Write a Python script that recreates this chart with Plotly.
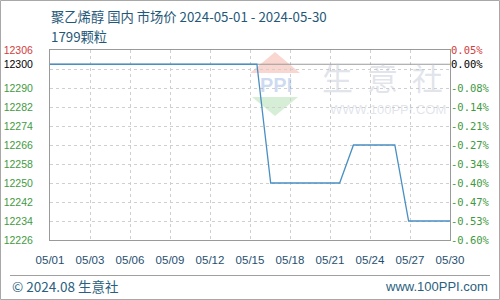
import pandas as pd
import plotly.graph_objects as go

# ---- data ----
dates = pd.date_range("2024-05-01", "2024-05-30", freq="D").strftime("%Y-%m-%d").tolist()
prices = [12300] * 16 + [12250] * 6 + [12266] * 4 + [12234] * 4

y_min, y_max = 12226, 12306
left_tickvals = [12226, 12234, 12242, 12250, 12258, 12266, 12274, 12282, 12290, 12300, 12306]
right_ticktext = ["-0.60%", "-0.53%", "-0.47%", "-0.40%", "-0.34%", "-0.27%", "-0.21%",
                  "-0.14%", "-0.08%", "0.00%", "0.05%"]
grid_vals = [12234, 12242, 12250, 12258, 12266, 12274, 12282, 12290, 12298]
n_xticks = 11

title_text = "聚乙烯醇 国内 市场价 2024-05-01 - 2024-05-30"
subtitle_text = "1799颗粒"
footer_left = "© 2024.08 生意社"
footer_right = "www.100PPI.com"

# ---- derived ----
GREEN, RED, BLACK = "#3f9a3f", "#d04040", "#000000"
base = prices[0]

def color_for(v):
    if v == y_max:
        return RED
    if v == base:
        return BLACK
    return GREEN

left_ticktext = [f"<span style='color:{color_for(v)}'>{v}</span>" for v in left_tickvals]
right_ticktext_c = [f"<span style='color:{color_for(v)}'>{t}</span>" for v, t in zip(left_tickvals, right_ticktext)]

start = pd.Timestamp(dates[0])
end = pd.Timestamp(dates[-1])
span = end - start
xt = [start + span * i / (n_xticks - 1) for i in range(n_xticks)]
xtickvals = [t.strftime("%Y-%m-%d %H:%M:%S") for t in xt]
xticktext = [t.floor("D").strftime("%m/%d") for t in xt]

fig = go.Figure()
# baseline (first value) reference
fig.add_trace(go.Scatter(x=[dates[0], dates[-1]], y=[base, base], mode="lines",
                         line=dict(color="#9a9a9a", width=1), hoverinfo="skip", showlegend=False))
fig.add_trace(go.Scatter(x=dates, y=prices, mode="lines",
                         line=dict(color="#4a8fc2", width=1.3), showlegend=False))
# invisible traces to anchor extra axes
fig.add_trace(go.Scatter(x=[dates[0]], y=[base], yaxis="y2", mode="markers",
                         marker=dict(opacity=0), hoverinfo="skip", showlegend=False))
fig.add_trace(go.Scatter(x=[dates[0]], y=[base], yaxis="y3", mode="markers",
                         marker=dict(opacity=0), hoverinfo="skip", showlegend=False))

axis_font = dict(family="Liberation Sans, Arial, sans-serif", size=10.5)

fig.update_layout(
    width=500, height=300,
    margin=dict(l=50, r=50, t=50, b=60, autoexpand=False),
    paper_bgcolor="white", plot_bgcolor="white",
    xaxis=dict(
        type="date", range=[dates[0], dates[-1]], automargin=False,
        tickmode="array", tickvals=xtickvals, ticktext=xticktext,
        showgrid=True, gridcolor="#cfcfcf", griddash="dot", gridwidth=1,
        ticks="outside", ticklen=9, tickcolor="rgba(0,0,0,0)",
        tickfont=dict(family="Liberation Sans, Arial, sans-serif", size=11.5, color="#1f4f6f"),
        showline=True, linecolor="#9a9a9a", linewidth=1, mirror=True,
        zeroline=False, fixedrange=True,
    ),
    yaxis=dict(
        range=[y_min, y_max], tickmode="array", tickvals=left_tickvals, ticktext=left_ticktext,
        showgrid=False, zeroline=False, automargin=False,
        ticks="outside", ticklen=14, tickcolor="rgba(0,0,0,0)",
        tickfont=axis_font,
        showline=True, linecolor="#9a9a9a", linewidth=1, mirror=True,
    ),
    yaxis2=dict(
        range=[y_min, y_max], overlaying="y", side="right", automargin=False,
        tickmode="array", tickvals=left_tickvals, ticktext=right_ticktext_c,
        showgrid=False, zeroline=False, ticks="", ticklen=0,
        tickfont=dict(family="DejaVu Sans Mono, monospace", size=10.5),
        showline=False,
    ),
    yaxis3=dict(
        range=[y_min, y_max], overlaying="y", side="left", automargin=False,
        tickmode="array", tickvals=grid_vals, showticklabels=False,
        showgrid=True, gridcolor="#cfcfcf", griddash="dot", gridwidth=1,
        zeroline=False, showline=False, ticks="",
    ),
)

def px2paper(px, py):
    return (px - 50) / 400, (240 - py) / 190

ann_font = "Noto Sans CJK SC, sans-serif"
annotations = []
x0, y0 = px2paper(50, 16)
annotations.append(dict(text=title_text, x=x0, y=y0, xref="paper", yref="paper",
                        xanchor="left", yanchor="middle", showarrow=False, borderpad=0,
                        font=dict(family=ann_font, size=13.3, color="#1f5878")))
x0, y0 = px2paper(50, 36)
annotations.append(dict(text=subtitle_text, x=x0, y=y0, xref="paper", yref="paper",
                        xanchor="left", yanchor="middle", showarrow=False, borderpad=0,
                        font=dict(family=ann_font, size=13.3, color="#1f5878")))
x0, y0 = px2paper(10, 286)
annotations.append(dict(text=footer_left, x=x0, y=y0, xref="paper", yref="paper",
                        xanchor="left", yanchor="middle", showarrow=False,
                        font=dict(family=ann_font, size=13.5, color="#2a5f80")))
x0, y0 = px2paper(490, 286)
annotations.append(dict(text=footer_right, x=x0, y=y0, xref="paper", yref="paper",
                        xanchor="right", yanchor="middle", showarrow=False,
                        font=dict(family="Liberation Sans, Arial, sans-serif", size=13, color="#2a5f80")))
# watermark
x0, y0 = px2paper(382, 76)
annotations.append(dict(text="生  意  社", x=x0, y=y0, xref="paper", yref="paper",
                        xanchor="center", yanchor="middle", showarrow=False,
                        font=dict(family=ann_font, size=31, color="rgba(190,195,210,0.45)")))
x0, y0 = px2paper(388, 109)
annotations.append(dict(text="WWW.100PPI.COM", x=x0, y=y0, xref="paper", yref="paper",
                        xanchor="center", yanchor="middle", showarrow=False,
                        font=dict(family="Liberation Sans, Arial, sans-serif", size=13,
                                  color="rgba(190,195,210,0.45)")))
x0, y0 = px2paper(276, 85)
annotations.append(dict(text="<b>PPI</b>", x=x0, y=y0, xref="paper", yref="paper",
                        xanchor="center", yanchor="middle", showarrow=False,
                        font=dict(family="Liberation Sans, Arial, sans-serif", size=20,
                                  color="rgba(110,150,210,0.35)")))
fig.update_layout(annotations=annotations)

def path(points):
    s = ""
    for i, (px, py) in enumerate(points):
        xp, yp = px2paper(px, py)
        s += ("M" if i == 0 else "L") + f"{xp:.5f},{yp:.5f} "
    return s + "Z"

shapes = []
shapes.append(dict(type="path", xref="paper", yref="paper", path=path([(275, 52), (250, 73), (300, 73)]),
                   fillcolor="rgba(235,120,100,0.3)", line=dict(width=0), layer="below"))
shapes.append(dict(type="path", xref="paper", yref="paper", path=path([(252, 97), (298, 97), (275, 116)]),
                   fillcolor="rgba(120,200,120,0.3)", line=dict(width=0), layer="below"))
# footer separator
a = px2paper(10, 275.5); b = px2paper(490, 275.5)
shapes.append(dict(type="line", xref="paper", yref="paper", x0=a[0], y0=a[1], x1=b[0], y1=b[1],
                   line=dict(color="#a0a0a0", width=1)))
# outer frame
a = px2paper(0.5, 0.5); b = px2paper(499.5, 299.5)
shapes.append(dict(type="rect", xref="paper", yref="paper", x0=a[0], y0=a[1], x1=b[0], y1=b[1],
                   line=dict(color="#a8a8a8", width=1)))
fig.update_layout(shapes=shapes)

fig.write_html("out.html", config=dict(displayModeBar=False))
